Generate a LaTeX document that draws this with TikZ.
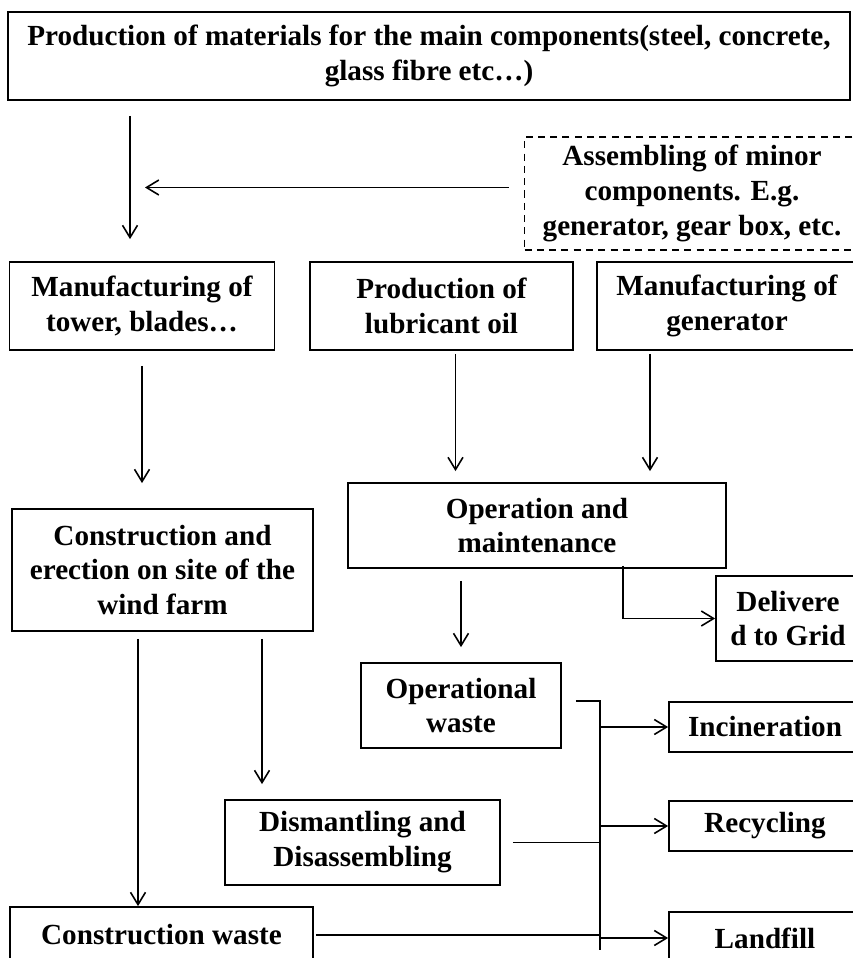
\documentclass[tikz,border=0pt]{standalone}
\usepackage{fontspec}
\setmainfont{Liberation Serif}
\usetikzlibrary{arrows.meta}
\tikzset{
  % boxes of the life cycle, width and height given per box
  stage/.style 2 args={draw, line width=1pt, inner sep=0pt, align=center,
    minimum width=#1, minimum height=#2,
    font=\fontsize{16.6}{19.9}\selectfont\bfseries},
  flow/.style={line width=0.9pt, -{Straight Barb[length=7pt,width=8.5pt]}},
  wire/.style={line width=0.9pt}
}
\begin{document}
\begin{tikzpicture}

\useasboundingbox (0,0) rectangle (17.06,-19.16);

\def\rowA{-6.12}
\pgfmathsetmacro{\rowB}{\rowA-4.39}

% Boxes
\node[stage={16.84cm}{1.76cm}] (mat) at (8.58,-1.12)
  {Production of materials for the main components(steel, concrete,\\glass fibre etc\ldots)};
\node[stage={6.7cm}{2.26cm}, dash pattern=on 4pt off 3pt] (asm) at (13.84,-3.87)
  {Assembling of minor\\components. E.g.\\generator, gear box, etc.};
\node[stage={5.3cm}{1.76cm}]  (tow) at (2.84,\rowA)  {Manufacturing of\\tower, blades\ldots};
\node[stage={5.26cm}{1.76cm}] (lub) at (8.83,\rowA)  {Production of\\lubricant oil};
\node[stage={5.2cm}{1.76cm}]  (gen) at (14.54,\rowA) {Manufacturing of\\generator};
\node[stage={7.56cm}{1.7cm}]  (om)  at (10.74,\rowB) {Operation and\\maintenance};
\node[stage={6.02cm}{2.44cm}] (con) at (3.25,-11.4)  {Construction and\\erection on site of the\\wind farm};
\node[stage={2.88cm}{1.7cm}]  (del) at (15.76,-12.37) {Delivere\\d to Grid};
\node[stage={4.0cm}{1.7cm}]   (opw) at (9.22,-14.11) {Operational\\waste};
\node[stage={3.84cm}{1.0cm}]  (inc) at (15.3,-14.54) {Incineration};
\node[stage={3.84cm}{1.0cm}]  (rec) at (15.3,-16.52) {Recycling};
\node[stage={5.5cm}{1.7cm}]   (dis) at (7.25,-16.85) {Dismantling and\\Disassembling};
\node[stage={6.06cm}{1.12cm}] (cw)  at (3.23,-18.7)  {Construction waste};
\node[stage={3.84cm}{1.04cm}] (lan) at (15.3,-18.76) {Landfill};

% Free ends of the connectors
\coordinate (matdown) at ([xshift=-0.24cm]tow.north);
\coordinate (asmout)  at ([yshift=0.12cm]asm.west);
\coordinate (lubdown) at ([xshift=0.28cm]lub.south);
\coordinate (gendown) at ([xshift=-1.54cm]gen.south);
\coordinate (omgrid)  at ([xshift=1.72cm]om.south);
\coordinate (conleft) at ([xshift=-0.49cm]con.south);
\coordinate (conright) at ([xshift=1.99cm]con.south);
\coordinate (bustop)  at ([xshift=0.76cm,yshift=0.09cm]opw.east);

% Arrows
\draw[flow, shorten <=0.3cm, shorten >=0.44cm] (matdown |- mat.south) -- (matdown);
\draw[flow, shorten <=0.3cm, shorten >=0.3cm] (asmout) -- (matdown |- asmout);
\draw[flow, shorten <=0.3cm, shorten >=0.5cm] (tow.south) -- (con.north -| tow.south);
\draw[flow, shorten <=0.06cm, shorten >=0.22cm] (lubdown) -- (lubdown |- om.north);
\draw[flow, shorten <=0.06cm, shorten >=0.22cm] (gendown) -- (gendown |- om.north);
\draw[flow, shorten <=0.24cm, shorten >=0.3cm] (om.south -| opw.north) -- (opw.north);
\draw[flow] ([yshift=0.06cm]omgrid) |- (del.west);
\draw[flow, shorten <=0.14cm] (conleft) -- (conleft |- cw.north);
\draw[flow, shorten <=0.14cm, shorten >=0.3cm] (conright) -- (conright |- dis.north);

% Waste collector line
\draw[wire, shorten <=0.28cm] (opw.east |- bustop) -- (bustop) -- ++(0,-4.98);
\draw[wire, shorten <=0.24cm] (dis.east) -- (dis.east -| bustop);
\draw[wire, shorten <=0.04cm] (cw.east) -- (cw.east -| bustop);
\foreach \dest in {inc, rec, lan} {
  \draw[flow] (bustop |- \dest.west) -- (\dest.west);
}

\end{tikzpicture}
\end{document}
